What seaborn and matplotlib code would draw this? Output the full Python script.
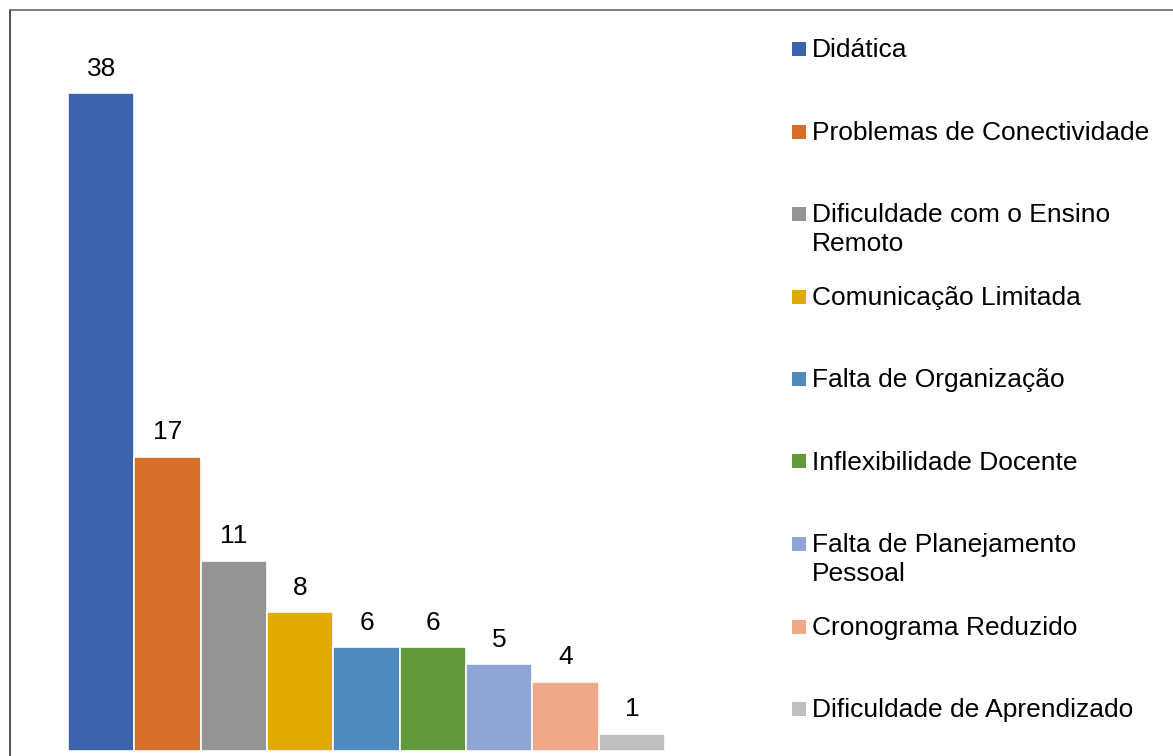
import matplotlib
matplotlib.use("Agg")
import matplotlib.pyplot as plt
from matplotlib.patches import Rectangle
from matplotlib.lines import Line2D
import seaborn as sns
import pandas as pd

sns.set_style("white")
plt.rcParams['font.family'] = ['Liberation Sans', 'DejaVu Sans']

# data
categorias = ["Didática", "Problemas de Conectividade", "Dificuldade com o Ensino Remoto",
              "Comunicação Limitada", "Falta de Organização", "Inflexibilidade Docente",
              "Falta de Planejamento Pessoal", "Cronograma Reduzido", "Dificuldade de Aprendizado"]
legenda = ["Didática", "Problemas de Conectividade", "Dificuldade com o Ensino\nRemoto",
           "Comunicação Limitada", "Falta de Organização", "Inflexibilidade Docente",
           "Falta de Planejamento\nPessoal", "Cronograma Reduzido", "Dificuldade de Aprendizado"]
valores = [38, 17, 11, 8, 6, 6, 5, 4, 1]
cores = ["#3C64AD", "#D46E2A", "#949494", "#E1AA00", "#4F8ABE",
         "#63993D", "#8FA5D6", "#F0A88A", "#BFBFBF"]

df = pd.DataFrame({"categoria": categorias, "valor": valores})

W, H = 1173, 756
fig = plt.figure(figsize=(W / 100, H / 100), dpi=100)
# axes: bars from x=68 to 665 px, baseline at y=751, top of 38 at y=93
ax = fig.add_axes([68 / W, (H - 751) / H, (665 - 68) / W, (751 - 93) / H])

sns.barplot(data=df, x="categoria", y="valor", hue="categoria", palette=cores,
            saturation=1, dodge=False, legend=False, width=1.0,
            edgecolor="white", linewidth=1.2, ax=ax)
ax.set_xlim(-0.5, len(valores) - 0.5)
ax.set_ylim(0, 38)
for c in ax.containers:
    ax.bar_label(c, fontsize=19, padding=9, color="black")
ax.set_axis_off()

# legend drawn by hand: marker aligned to the first line of text
for i, (lab, col) in enumerate(zip(legenda, cores)):
    yc = 49 + i * 82.5
    fig.patches.append(Rectangle((792 / W, 1 - (yc + 7) / H), 14 / W, 14 / H,
                                 transform=fig.transFigure, facecolor=col,
                                 edgecolor="none"))
    for j, linha in enumerate(lab.split("\n")):
        base = yc + 8 + j * 29
        fig.text(812 / W, 1 - base / H, linha, fontsize=19, va="baseline",
                 ha="left", color="black")

# chart border (left and top visible)
fig.add_artist(Line2D([9.5 / W, 9.5 / W], [0, 1 - 9.5 / H], transform=fig.transFigure,
                      color="#333333", linewidth=1.2))
fig.add_artist(Line2D([9.5 / W, 1], [1 - 9.5 / H, 1 - 9.5 / H], transform=fig.transFigure,
                      color="#666666", linewidth=1.2))

fig.savefig("out.png", dpi=100)
